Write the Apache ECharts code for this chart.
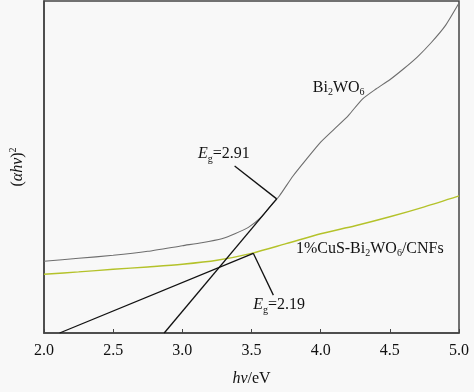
<!DOCTYPE html>
<html>
<head>
<meta charset="utf-8">
<script src="https://cdn.jsdelivr.net/npm/echarts@6/dist/echarts.min.js"></script>
<style>
  html, body { margin: 0; padding: 0; background: #f8f8f8; }
  #chart { width: 474px; height: 392px; }
</style>
</head>
<body>
<div id="chart"></div>
<script>
// Bi2WO6 curve
const bi_hv = [2.0, 2.25, 2.5, 2.75, 3.0, 3.14, 3.285, 3.38, 3.48, 3.57, 3.64, 3.7, 3.8, 3.9, 4.0, 4.1, 4.2, 4.3, 4.4, 4.5, 4.6, 4.7, 4.8, 4.9, 5.0];
const bi_val = [21.6, 22.5, 23.4, 24.6, 26.3, 27.2, 28.4, 29.9, 31.9, 34.9, 38.4, 41.2, 47.3, 52.5, 57.5, 61.5, 65.5, 70.4, 73.5, 76.3, 79.6, 83.2, 87.5, 92.5, 99.4];
// 1%CuS-Bi2WO6/CNFs curve
const cus_hv = [2.0, 2.25, 2.5, 2.75, 3.0, 3.25, 3.5, 3.75, 4.0, 4.25, 4.5, 4.75, 5.0];
const cus_val = [17.7, 18.4, 19.2, 19.9, 20.7, 21.9, 24.0, 26.9, 29.9, 32.3, 35.0, 38.0, 41.3];
// tangent lines and leader lines: [hv, value]
const tangent_bi = [[2.869, 0], [3.682, 40.4]];
const tangent_cus = [[2.113, 0], [3.513, 24.0]];
const leader_bi = [[3.378, 50.3], [3.682, 40.4]];
const leader_cus = [[3.513, 24.0], [3.658, 11.4]];
// annotations: [hv, value, text]
const notes = [
  [3.30, 53.9, '{i|E}{s|g}{n|=2.91}'],
  [3.70, 8.4, '{i|E}{s|g}{n|=2.19}'],
  [4.13, 74.0, '{n|Bi}{s|2}{n|WO}{s|6}'],
  [4.355, 25.4, '{n|1%CuS-Bi}{s|2}{n|WO}{s|6}{n|/CNFs}']
];
const xTicks = [2.0, 2.5, 3.0, 3.5, 4.0, 4.5, 5.0];

const serif = 'Liberation Serif';
const ink = '#111';
const rich = {
  n: { fontFamily: serif, fontSize: 16, color: ink, lineHeight: 20 },
  i: { fontFamily: serif, fontSize: 16, color: ink, lineHeight: 20, fontStyle: 'italic' },
  s: { fontFamily: serif, fontSize: 10, color: ink, lineHeight: 10, verticalAlign: 'bottom' }
};

const chart = echarts.init(document.getElementById('chart'), null, { renderer: 'canvas' });

const pair = (xs, ys) => xs.map((x, k) => [x, ys[k]]);

const option = {
  backgroundColor: '#f8f8f8',
  animation: false,
  grid: {
    left: 41, right: 15, top: 1, bottom: 57,
    show: true, borderColor: '#444', borderWidth: 1.5, backgroundColor: 'transparent'
  },
  xAxis: {
    type: 'value', min: 2, max: 5, interval: 0.5,
    axisLine: { lineStyle: { color: '#444', width: 1.5 } },
    axisTick: { inside: true, length: 4, lineStyle: { color: '#444' } },
    splitLine: { show: false },
    axisLabel: {
      margin: 10, color: ink, fontFamily: serif, fontSize: 16,
      formatter: v => xTicks.includes(v) ? v.toFixed(1) : ''
    },
    name: '{i|hν}{n|/eV}', nameLocation: 'middle', nameGap: 36,
    nameTextStyle: { rich: rich }
  },
  yAxis: {
    type: 'value', min: 0, max: 100,
    axisLine: { lineStyle: { color: '#444', width: 1.5 } },
    axisTick: { show: false }, axisLabel: { show: false }, splitLine: { show: false },
    name: '{n|(}{i|αhν}{n|)}{p|2}', nameLocation: 'middle', nameGap: 16,
    nameTextStyle: {
      rich: Object.assign({}, rich, {
        p: { fontFamily: serif, fontSize: 10, color: ink, lineHeight: 10, verticalAlign: 'top' }
      })
    }
  },
  series: [
    { type: 'line', data: pair(bi_hv, bi_val), smooth: 0.2, showSymbol: false,
      lineStyle: { color: '#6e6e6e', width: 1.1 } },
    { type: 'line', data: pair(cus_hv, cus_val), smooth: 0.3, showSymbol: false,
      lineStyle: { color: '#b4c22a', width: 1.4 } },
    { type: 'line', data: tangent_bi, showSymbol: false, lineStyle: { color: '#111', width: 1.3 } },
    { type: 'line', data: tangent_cus, showSymbol: false, lineStyle: { color: '#111', width: 1.3 } },
    { type: 'line', data: leader_bi, showSymbol: false, lineStyle: { color: '#111', width: 1.3 } },
    { type: 'line', data: leader_cus, showSymbol: false, lineStyle: { color: '#111', width: 1.3 } },
    { type: 'scatter', symbolSize: 0, itemStyle: { opacity: 1 },
      data: notes.map(d => ({ value: [d[0], d[1]], text: d[2] })),
      label: {
        show: true, position: 'inside', color: ink,
        formatter: p => p.data.text, rich: rich
      }
    }
  ]
};

chart.setOption(option);
window.addEventListener('resize', chart.resize);
</script>
</body>
</html>
